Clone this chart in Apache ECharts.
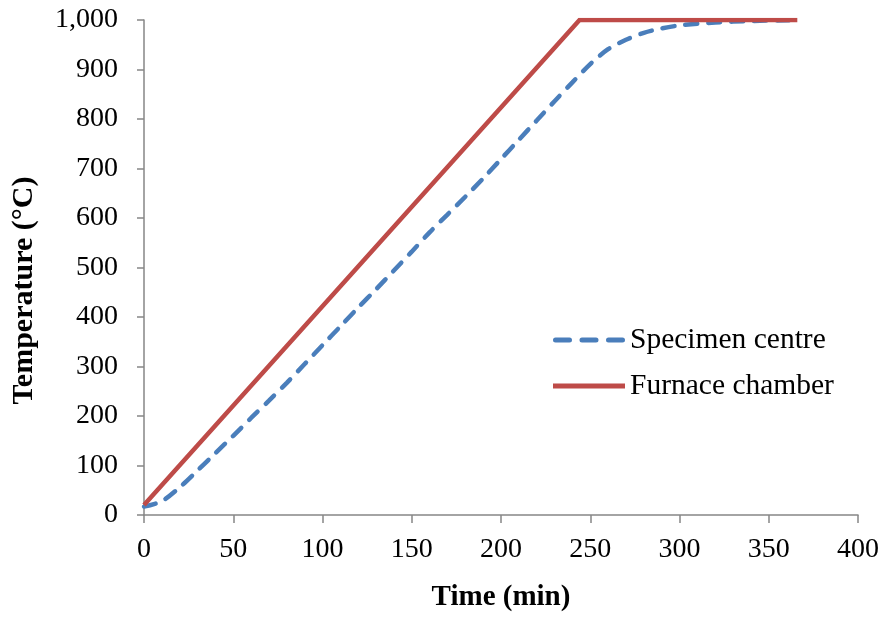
<!DOCTYPE html>
<html>
<head>
<meta charset="utf-8">
<script src="https://cdn.jsdelivr.net/npm/echarts@6/dist/echarts.min.js"></script>
<style>
  html, body { margin: 0; padding: 0; background: #fff; }
  #chart { width: 882px; height: 617px; }
</style>
</head>
<body>
<div id="chart"></div>
<script>
// Heating curves: time in minutes, temperature in °C
const specimenTime = [0, 10, 20, 30, 40, 50, 60, 70, 80, 90, 100, 110, 120, 130, 140, 150, 160, 170, 180, 190, 200, 210, 220, 230, 240, 250, 260, 270, 280, 290, 300, 320, 340, 366];
const specimenTemp = [17, 28, 56, 90, 125, 160, 196, 231, 267, 305, 343, 381, 419, 456, 494, 532, 571, 607, 643, 680, 719, 758, 797, 836, 874, 911, 941, 960, 974, 983, 989, 995, 998, 1000];
const furnaceTime = [0, 244, 366];
const furnaceTemp = [20, 1000, 1000];
const xTicks = { min: 0, max: 400, step: 50 };
const yTicks = { min: 0, max: 1000, step: 100 };

const pairs = (xs, ys) => xs.map((x, i) => [x, ys[i]]);

const serif = '"Liberation Serif", "Times New Roman", serif';
const axisGrey = '#868686';
const blue = '#4A7EBB';
const red = '#BE4B48';

// Legend keys: three rounded dashes for the specimen, a solid bar for the furnace
const dashKey = 'path://M2.5,0h14a2.5,2.5 0 0 1 0,5h-14a2.5,2.5 0 0 1 0,-5z' +
  'M29,0h14a2.5,2.5 0 0 1 0,5h-14a2.5,2.5 0 0 1 0,-5z' +
  'M55.5,0h14a2.5,2.5 0 0 1 0,5h-14a2.5,2.5 0 0 1 0,-5z';
const solidKey = 'path://M0,0h72v5h-72z';

const chart = echarts.init(document.getElementById('chart'), null, { renderer: 'canvas' });
chart.setOption({
  backgroundColor: '#ffffff',
  animation: false,
  grid: { left: 144, top: 20, width: 714, height: 500, containLabel: false },
  legend: {
    orient: 'vertical',
    left: 553,
    top: 325,
    padding: 0,
    itemWidth: 72,
    itemHeight: 5,
    itemGap: 16,
    textStyle: { fontFamily: serif, fontSize: 29.5, color: '#000' },
    data: [
      { name: 'Specimen centre', icon: dashKey, itemStyle: { color: blue } },
      { name: 'Furnace chamber', icon: solidKey, itemStyle: { color: red } }
    ]
  },
  xAxis: {
    type: 'value',
    min: xTicks.min, max: xTicks.max, interval: xTicks.step,
    name: 'Time (min)',
    nameLocation: 'middle',
    nameGap: 68,
    nameTextStyle: { fontFamily: serif, fontSize: 29, fontWeight: 'bold', color: '#000' },
    axisLine: { show: true, lineStyle: { color: axisGrey, width: 1.5 } },
    axisTick: { show: true, inside: false, length: 8, lineStyle: { color: axisGrey, width: 1.5 } },
    axisLabel: { fontFamily: serif, fontSize: 28, color: '#000', margin: 21 },
    splitLine: { show: false }
  },
  yAxis: {
    type: 'value',
    min: yTicks.min, max: yTicks.max, interval: yTicks.step,
    name: 'Temperature (°C)',
    nameLocation: 'middle',
    nameGap: 105,
    nameTextStyle: {
      fontFamily: serif, fontSize: 30, fontWeight: 'bold', color: '#000',
      padding: [0, 46, 0, 0]
    },
    axisLine: { show: true, lineStyle: { color: axisGrey, width: 1.5 } },
    axisTick: { show: true, inside: false, length: 7, lineStyle: { color: axisGrey, width: 1.5 } },
    axisLabel: {
      fontFamily: serif, fontSize: 28, color: '#000', margin: 26,
      formatter: v => v.toLocaleString('en-US')
    },
    splitLine: { show: false }
  },
  series: [
    {
      name: 'Specimen centre',
      type: 'line',
      data: pairs(specimenTime, specimenTemp),
      smooth: 0.3,
      showSymbol: false,
      symbol: 'none',
      z: 2,
      lineStyle: { color: blue, width: 4.5, type: [12, 11], cap: 'round' },
      itemStyle: { color: blue }
    },
    {
      name: 'Furnace chamber',
      type: 'line',
      data: pairs(furnaceTime, furnaceTemp),
      showSymbol: false,
      symbol: 'none',
      z: 3,
      lineStyle: { color: red, width: 4.5, cap: 'butt', join: 'miter' },
      itemStyle: { color: red }
    }
  ]
});
</script>
</body>
</html>
